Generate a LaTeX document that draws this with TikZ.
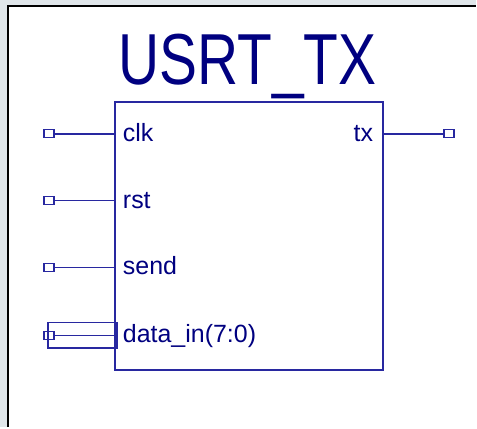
\documentclass[tikz,border=0pt]{standalone}
\usepackage{fontspec}
\setmainfont{Liberation Sans}
\usepackage{xcolor}
\usepackage{tikz}
\usetikzlibrary{positioning}

\definecolor{wire}{RGB}{40,40,160}
\definecolor{navytext}{RGB}{0,0,128}
\definecolor{panel}{RGB}{224,230,234}

\begin{document}
\begin{tikzpicture}[
    x=1pt, y=-1pt,
    block/.style={rectangle, draw=wire, line width=1.8pt, minimum width=269pt, minimum height=269pt, inner sep=0pt},
    pin/.style={rectangle, draw=wire, line width=1.5pt, minimum width=10pt, minimum height=8pt, inner sep=0pt},
    wireline/.style={draw=wire, line width=1.6pt},
    portlabel/.style={font=\fontsize{25}{29}\selectfont, text=navytext, inner sep=0pt}
]
% Frame and background
\fill[panel] (0,0) rectangle (477,428);
\fill[white] (8,6) rectangle (477,428);
\draw[black, line width=2pt] (8,428) -- (8,6) -- (477,6);
\useasboundingbox (0,0) rectangle (477,428);

% Title
\node[anchor=base, text=navytext, inner sep=0pt] (title) at (248,85)
    {\scalebox{1}[1.27]{\fontsize{57}{60}\selectfont USRT\_TX}};

% Main block
\node[block] (usrt) at (249.5,236.5) {};

% Input pins
\node[pin] (clkpin) at (49,134) {};
\node[pin] (rstpin) at (49,201) {};
\node[pin] (sendpin) at (49,268) {};
\node[pin] (datapin) at (49,336) {};

% Output pin
\node[pin] (txpin) at (450,134) {};

% Wires
\draw[wireline] (clkpin.east) -- (clkpin.east -| usrt.west);
\draw[wireline] (rstpin.east) -- (rstpin.east -| usrt.west);
\draw[wireline] (sendpin.east) -- (sendpin.east -| usrt.west);
\draw[wireline] (datapin.east) -- (datapin.east -| usrt.west);
\draw[wireline] (txpin.west -| usrt.east) -- (txpin.west);

% Bus outline for data_in
\node[rectangle, draw=wire, line width=1.6pt, minimum width=69pt, minimum height=26pt, inner sep=0pt] (databus) at (82.5,336) {};

% Port labels
\node[portlabel, anchor=base west] (clklbl) at (123,141.5) {clk};
\node[portlabel, anchor=base west] (rstlbl) at (123,208.5) {rst};
\node[portlabel, anchor=base west] (sendlbl) at (123,275.5) {send};
\node[portlabel, anchor=base west] (datalbl) at (123,343) {data\_in(7:0)};
\node[portlabel, anchor=base east] (txlbl) at (374,141.5) {tx};
\end{tikzpicture}
\end{document}
